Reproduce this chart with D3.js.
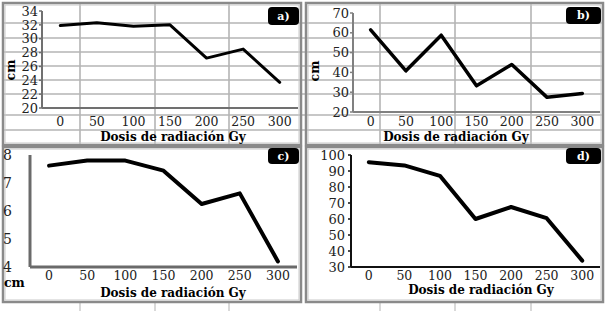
<!DOCTYPE html>
<html>
<head>
<meta charset="utf-8">
<script src="https://cdn.jsdelivr.net/npm/d3@7"></script>
<style>
  body { margin: 0; background: #fff; }
  svg text { font-family: "DejaVu Serif", serif; }
</style>
</head>
<body>
<div id="chart"></div>
<script>
// data
const doses = ["0", "50", "100", "150", "200", "250", "300"];
const lengthA = [31.9, 32.3, 31.8, 32.0, 27.2, 28.5, 23.7];
const lengthB = [61.5, 40.8, 58.8, 33.2, 44.0, 27.4, 29.4];
const lengthC = [7.62, 7.8, 7.8, 7.44, 6.25, 6.63, 4.2];
const lengthD = [95.5, 93.5, 87, 60, 67.5, 60.5, 34];
const ticksA = [20, 22, 24, 26, 28, 30, 32, 34];
const ticksB = [20, 30, 40, 50, 60, 70];
const ticksC = [4, 5, 6, 7, 8];
const ticksD = [30, 40, 50, 60, 70, 80, 90, 100];
const panelNames = ["a)", "b)", "c)", "d)"];
const xTitle = "Dosis de radiación Gy";
const yTitle = "cm";

const svg = d3.select("#chart").append("svg")
    .attr("width", 606)
    .attr("height", 311);

// spreadsheet cell grid behind the two upper panels
const gridRows = [23, 38, 52, 66, 80, 94, 115, 130];
const gridCols = [80, 155, 229, 380, 455, 531];
const grid = svg.append("g").attr("stroke", "#b4b4b4").attr("stroke-width", 1.6);
gridRows.forEach(y => grid.append("line").attr("x1", 3).attr("x2", 603).attr("y1", y).attr("y2", y));
gridCols.forEach(x => grid.append("line").attr("x1", x).attr("x2", x).attr("y1", 3).attr("y2", 145));
gridCols.forEach(x => grid.append("line").attr("x1", x).attr("x2", x).attr("y1", 303).attr("y2", 311)
    .attr("stroke", "#d0d0d0"));

const panels = [
    { name: panelNames[0], values: lengthA, ticks: ticksA, box: [3, 3, 301, 145], x0: 42, x1: 298, yTop: 11, yBot: 108,
      labelX: 38, tickSize: 3, axisColor: "#707070", axisWidth: 2, lineWidth: 3, fs: 13,
      xLabelY: 126, titleX: 173, titleY: 141, cm: { x: 11, y: 70, rotate: true }, tag: [268, 7, 31, 18], bg: false },
    { name: panelNames[1], values: lengthB, ticks: ticksB, box: [306, 3, 603, 145], x0: 353, x1: 600, yTop: 13, yBot: 112,
      labelX: 349, tickSize: 3, axisColor: "#808080", axisWidth: 2, lineWidth: 3.5, fs: 13,
      xLabelY: 126, titleX: 456, titleY: 141, cm: { x: 315, y: 71, rotate: true }, tag: [566, 7, 35, 17], bg: false },
    { name: panelNames[2], values: lengthC, ticks: ticksC, box: [3, 147, 301, 302], x0: 30, x1: 297, yTop: 155, yBot: 267,
      labelX: 12, tickSize: 0, axisColor: "#6a6a6a", axisWidth: 3, lineWidth: 4, fs: 14,
      xLabelY: 280, titleX: 173, titleY: 297, cm: { x: 4, y: 287, rotate: false }, tag: [268, 148, 31, 16], bg: true },
    { name: panelNames[3], values: lengthD, ticks: ticksD, box: [306, 147, 603, 302], x0: 351, x1: 600, yTop: 155, yBot: 267,
      labelX: 345, tickSize: 3, axisColor: "#111", axisWidth: 2, lineWidth: 4, fs: 13,
      xLabelY: 280, titleX: 481, titleY: 294, cm: null, tag: [566, 148, 35, 16], bg: true }
];

panels.forEach(p => {
    const g = svg.append("g");
    const [bx0, by0, bx1, by1] = p.box;

    if (p.bg) {
        g.append("rect").attr("x", bx0).attr("y", by0).attr("width", bx1 - bx0).attr("height", by1 - by0)
            .attr("fill", "#fff");
    }
    g.append("rect").attr("x", bx0).attr("y", by0).attr("width", bx1 - bx0).attr("height", by1 - by0)
        .attr("fill", "none").attr("stroke", "#8a8a8a").attr("stroke-width", 2.5);
    g.append("rect").attr("x", bx0 + 2).attr("y", by0 + 2).attr("width", bx1 - bx0 - 4).attr("height", by1 - by0 - 4)
        .attr("fill", "none").attr("stroke", "#c8c8c8").attr("stroke-width", 1);

    const x = d3.scalePoint().domain(doses).range([p.x0, p.x1]).padding(0.5);
    const y = d3.scaleLinear().domain(d3.extent(p.ticks)).range([p.yBot, p.yTop]);

    // y axis
    g.append("line").attr("x1", p.x0).attr("x2", p.x0).attr("y1", p.yTop).attr("y2", p.yBot)
        .attr("stroke", p.axisColor).attr("stroke-width", p.axisWidth);
    g.selectAll(".ytick").data(p.ticks).join("line")
        .attr("x1", p.x0 - p.tickSize).attr("x2", p.x0)
        .attr("y1", d => y(d)).attr("y2", d => y(d))
        .attr("stroke", p.axisColor).attr("stroke-width", 1.5);
    g.selectAll(".ylab").data(p.ticks).join("text")
        .attr("x", p.labelX).attr("y", d => y(d))
        .attr("dy", "0.36em")
        .attr("text-anchor", "end")
        .attr("font-size", p.fs)
        .attr("fill", "#222")
        .text(d => d);

    // x axis
    g.append("line").attr("x1", p.x0).attr("x2", p.x1).attr("y1", p.yBot).attr("y2", p.yBot)
        .attr("stroke", p.axisColor).attr("stroke-width", p.axisWidth);
    g.selectAll(".xlab").data(doses).join("text")
        .attr("x", d => x(d)).attr("y", p.xLabelY)
        .attr("text-anchor", "middle")
        .attr("font-size", 12.5)
        .attr("fill", "#222")
        .text(d => d);

    g.append("text").attr("x", p.titleX).attr("y", p.titleY)
        .attr("text-anchor", "middle")
        .attr("font-size", 12).attr("font-weight", "bold")
        .text(xTitle);

    if (p.cm) {
        const t = g.append("text").attr("font-size", 12.5).attr("font-weight", "bold").text(yTitle);
        if (p.cm.rotate) {
            t.attr("transform", `translate(${p.cm.x + 4},${p.cm.y}) rotate(-90)`).attr("text-anchor", "middle");
        } else {
            t.attr("x", p.cm.x).attr("y", p.cm.y);
        }
    }

    // data line
    const line = d3.line().x((d, i) => x(doses[i])).y(d => y(d));
    g.append("path").datum(p.values)
        .attr("d", line)
        .attr("fill", "none")
        .attr("stroke", "#000")
        .attr("stroke-width", p.lineWidth)
        .attr("stroke-linejoin", "round")
        .attr("stroke-linecap", "round");

    // panel tag
    const [tx, ty, tw, th] = p.tag;
    g.append("rect").attr("x", tx).attr("y", ty).attr("width", tw).attr("height", th)
        .attr("rx", 4).attr("fill", "#000");
    g.append("text").attr("x", tx + tw / 2).attr("y", ty + th / 2).attr("dy", "0.36em")
        .attr("text-anchor", "middle").attr("fill", "#fff")
        .attr("font-size", 11).attr("font-weight", "bold")
        .text(p.name);
});
</script>
</body>
</html>
